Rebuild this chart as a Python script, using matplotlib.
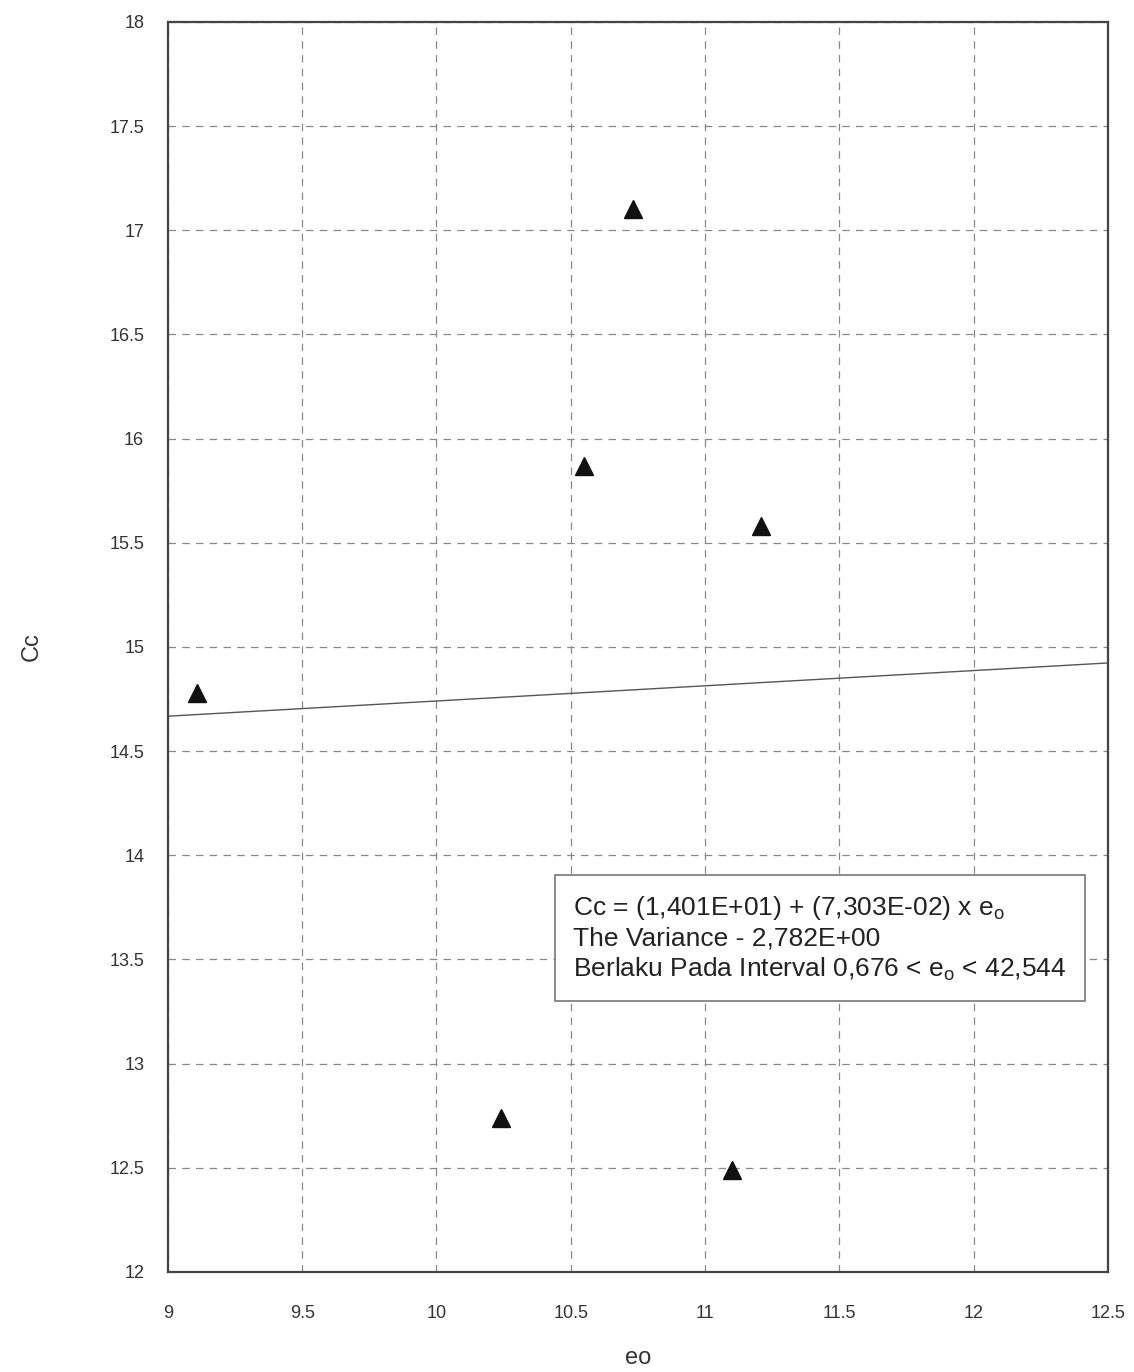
import matplotlib.pyplot as plt
import numpy as np

plt.rcParams['font.family'] = ['Liberation Sans', 'DejaVu Sans']

# measured points
eo = [9.11, 10.55, 10.73, 11.21, 10.24, 11.10]
cc = [14.78, 15.87, 17.10, 15.58, 12.74, 12.49]

# regression from the annotation
intercept = 14.01
slope = 7.303e-02
line_x = [9.0, 12.5]

x_ticks = [9, 9.5, 10, 10.5, 11, 11.5, 12, 12.5]
y_ticks = [12, 12.5, 13, 13.5, 14, 14.5, 15, 15.5, 16, 16.5, 17, 17.5, 18]

fig = plt.figure(figsize=(11.34, 13.72), dpi=100)
ax = fig.add_axes([0.148, 0.073, 0.829, 0.911])

line_y = intercept + slope * np.array(line_x)
ax.plot(line_x, line_y, color='#555555', linewidth=1.0)
ax.plot(eo, cc, linestyle='none', marker='^', markersize=13, color='#111111')

ax.set_xlim(9, 12.5)
ax.set_ylim(12, 18)
ax.set_xticks(x_ticks)
ax.set_yticks(y_ticks)
ax.set_xticklabels([f'{t:g}' for t in x_ticks])
ax.set_yticklabels([f'{t:g}' for t in y_ticks])
ax.tick_params(length=0, labelsize=13, colors='#333333')
ax.tick_params(axis='x', pad=24)
ax.tick_params(axis='y', pad=17)
ax.grid(True, linestyle=(0, (6, 5)), color='#888888', linewidth=0.9)

for s in ax.spines.values():
    s.set_color('#444444')
    s.set_linewidth(1.6)

ax.set_xlabel('eo', fontsize=17, color='#333333', labelpad=18)
ax.set_ylabel('Cc', fontsize=17, color='#333333', labelpad=48)

txt = ('Cc = (1,401E+01) + (7,303E-02) x e$_\\mathregular{o}$\n'
       'The Variance - 2,782E+00\n'
       'Berlaku Pada Interval 0,676 < e$_\\mathregular{o}$ < 42,544')
ax.text(10.51, 13.60, txt, fontsize=19, color='#222222', linespacing=1.22,
        va='center', ha='left',
        bbox=dict(boxstyle='square,pad=0.7', facecolor='white',
                  edgecolor='#777777', linewidth=1.2))

fig.savefig('out.png', dpi=100)
